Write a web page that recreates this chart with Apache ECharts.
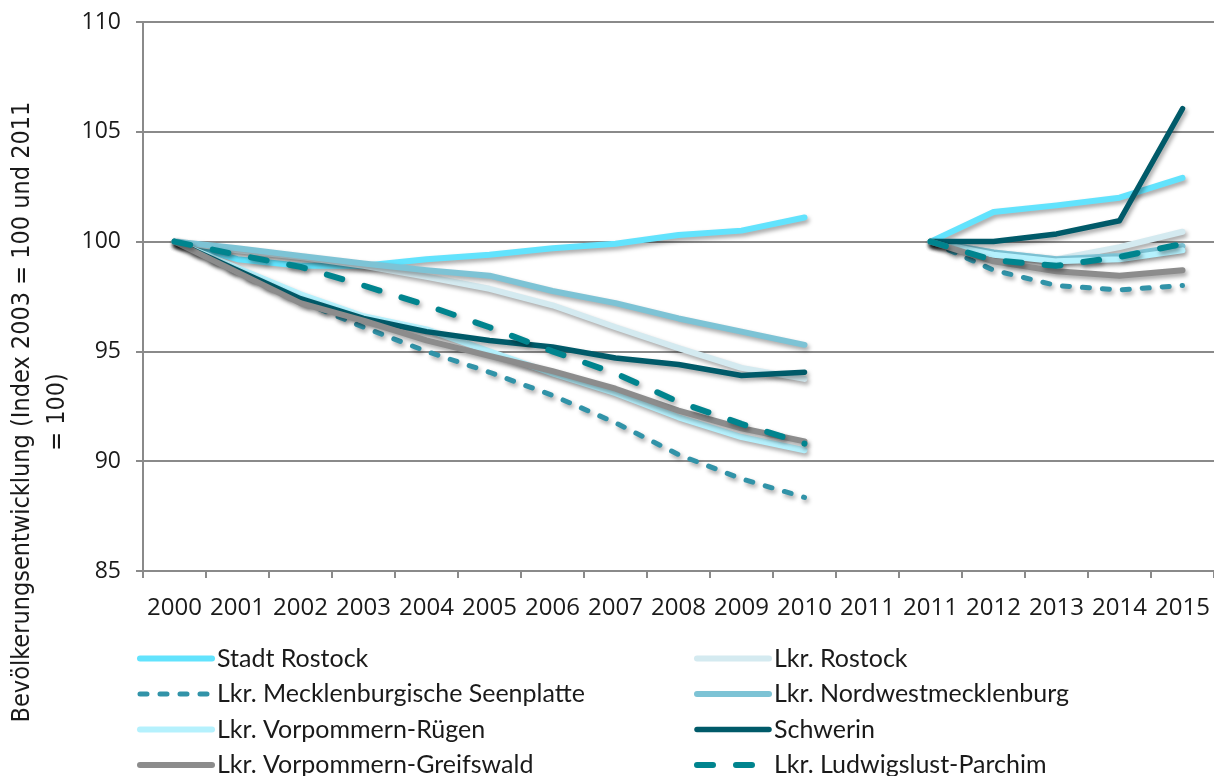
<!DOCTYPE html>
<html>
<head>
<meta charset="utf-8">
<script src="https://cdn.jsdelivr.net/npm/echarts@6/dist/echarts.min.js"></script>
<style>
  html, body { margin: 0; padding: 0; background: #ffffff; }
  #chart { width: 1214px; height: 776px; }
</style>
</head>
<body>
<div id="chart"></div>
<script>
// Years on the category axis; 2011 appears twice because the series restart at 2011 = 100
const years = ['2000', '2001', '2002', '2003', '2004', '2005', '2006', '2007', '2008', '2009', '2010',
               '2011', '2011', '2012', '2013', '2014', '2015'];
const yTicks = [85, 90, 95, 100, 105, 110];

// Index values per district (null = gap between the two index periods)
const stadtRostock = [100, 99.2, 98.9, 98.9, 99.2, 99.4, 99.7, 99.9, 100.3, 100.5, 101.1, null, 100, 101.35, 101.65, 102.0, 102.9];
const lkrRostock   = [100, 99.6, 99.3, 98.9, 98.4, 97.85, 97.1, 96.1, 95.15, 94.25, 93.75, null, 100, 99.5, 99.2, 99.75, 100.45];
const seenplatte   = [100, 98.6, 97.3, 96.1, 95.0, 94.05, 93.0, 91.75, 90.3, 89.2, 88.35, null, 100, 98.7, 98.0, 97.8, 98.0];
const nordwest     = [100, 99.7, 99.35, 99.0, 98.7, 98.45, 97.75, 97.2, 96.5, 95.9, 95.3, null, 100, 99.5, 99.2, 99.35, 99.8];
const ruegen       = [100, 98.8, 97.6, 96.6, 96.0, 95.0, 94.0, 93.1, 92.0, 91.1, 90.5, null, 100, 99.4, 99.1, 99.2, 99.6];
const schwerin     = [100, 98.7, 97.4, 96.5, 95.9, 95.5, 95.2, 94.7, 94.4, 93.9, 94.05, null, 100, 100.0, 100.35, 100.95, 106.05];
const greifswald   = [100, 98.6, 97.2, 96.4, 95.5, 94.8, 94.1, 93.3, 92.3, 91.5, 90.9, null, 100, 99.1, 98.65, 98.45, 98.7];
const parchim      = [100, 99.4, 98.85, 98.0, 97.1, 96.1, 95.0, 94.0, 92.7, 91.7, 90.8, null, 100, 99.15, 98.9, 99.3, 99.9];

const seriesDefs = [
  { name: 'Stadt Rostock', data: stadtRostock, color: '#62E3FD', width: 6, dash: 'solid' },
  { name: 'Lkr. Rostock', data: lkrRostock, color: '#D4EAF0', width: 6, dash: 'solid' },
  { name: 'Lkr. Mecklenburgische Seenplatte', data: seenplatte, color: '#3193A8', width: 5, dash: [7, 13] },
  { name: 'Lkr. Nordwestmecklenburg', data: nordwest, color: '#7DC3D5', width: 6, dash: 'solid' },
  { name: 'Lkr. Vorpommern-Rügen', data: ruegen, color: '#B5F1FD', width: 6, dash: 'solid' },
  { name: 'Schwerin', data: schwerin, color: '#005A69', width: 5.5, dash: 'solid' },
  { name: 'Lkr. Vorpommern-Greifswald', data: greifswald, color: '#8C8C8C', width: 6, dash: 'solid' },
  { name: 'Lkr. Ludwigslust-Parchim', data: parchim, color: '#00848E', width: 6, dash: [16, 23] }
];

const legendText = { fontFamily: 'Lato', fontSize: 25, color: '#1a1a1a', lineHeight: 24 };
const legendBase = {
  orient: 'vertical',
  top: 646,
  height: 160,
  padding: 0,
  itemWidth: 72,
  itemHeight: 14,
  itemGap: 10.5,
  textStyle: legendText,
  itemStyle: { opacity: 0 },
  lineStyle: {
    width: 'inherit',
    cap: 'round',
    shadowBlur: 0, shadowOffsetX: 0, shadowOffsetY: 0, shadowColor: 'rgba(0,0,0,0)'
  },
  selectedMode: false
};

const chart = echarts.init(document.getElementById('chart'), null, { renderer: 'canvas' });

chart.setOption({
  animation: false,
  backgroundColor: '#ffffff',
  grid: { left: 143, top: 22, right: -8, bottom: 205 },
  xAxis: {
    type: 'category',
    data: years,
    boundaryGap: true,
    axisLine: { show: true, lineStyle: { color: '#8a8a8a', width: 2 } },
    axisTick: { show: true, length: 7, interval: 0, lineStyle: { color: '#8a8a8a', width: 2 } },
    axisLabel: { interval: 0, margin: 25, fontFamily: 'Open Sans', fontSize: 24, color: '#1a1a1a' },
    splitLine: { show: false }
  },
  yAxis: {
    type: 'value',
    min: yTicks[0],
    max: yTicks[yTicks.length - 1],
    interval: 5,
    axisLine: { show: true, lineStyle: { color: '#8a8a8a', width: 2 } },
    axisTick: { show: true, length: 7, lineStyle: { color: '#8a8a8a', width: 2 } },
    axisLabel: { margin: 22, fontFamily: 'Open Sans', fontSize: 23, color: '#1a1a1a' },
    splitLine: { show: true, lineStyle: { color: '#8a8a8a', width: 2 } }
  },
  legend: [
    Object.assign({}, legendBase, {
      left: 137,
      data: [seriesDefs[0].name, seriesDefs[2].name, seriesDefs[4].name, seriesDefs[6].name]
    }),
    Object.assign({}, legendBase, {
      left: 694,
      data: [seriesDefs[1].name, seriesDefs[3].name, seriesDefs[5].name, seriesDefs[7].name]
    })
  ],
  graphic: [
    {
      type: 'text',
      x: 40,
      y: 412,
      rotation: Math.PI / 2,
      style: {
        text: 'Bevölkerungsentwicklung (Index 2003 = 100 und 2011\n= 100)',
        font: '25px "DejaVu Sans Condensed", "Roboto Condensed", Roboto, sans-serif',
        fill: '#1a1a1a',
        textAlign: 'center',
        textVerticalAlign: 'middle',
        lineHeight: 35
      }
    }
  ],
  series: seriesDefs.map(s => ({
    name: s.name,
    type: 'line',
    data: s.data,
    connectNulls: false,
    symbol: 'none',
    smooth: false,
    color: s.color,
    lineStyle: {
      color: s.color,
      width: s.width,
      type: s.dash,
      cap: 'round',
      join: 'round',
      shadowColor: 'rgba(0,0,0,0.35)',
      shadowBlur: 4,
      shadowOffsetX: 2,
      shadowOffsetY: 3
    },
    emphasis: { disabled: true }
  }))
});
</script>
</body>
</html>
